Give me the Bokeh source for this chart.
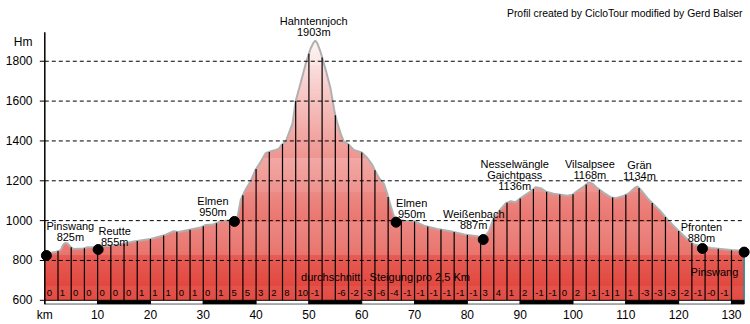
import numpy as np
from bokeh.plotting import figure
from bokeh.models import Range1d, FixedTicker, Label
from bokeh.core.properties import value
from bokeh.embed import file_html
from bokeh.resources import INLINE

# ---------------- data ----------------
profile_km = [0.0, 2.0, 3.0, 3.5, 3.9, 4.3, 4.9, 5.4, 7.3, 8.1, 10.0, 11.1, 14.3, 16.8,
              20.0, 22.5, 24.4, 25.3, 27.6, 29.5, 30.4, 31.9, 33.3, 35.2, 36.4, 37.1,
              38.0, 38.9, 39.9, 40.9, 41.8, 42.7, 43.7, 44.3, 44.8, 45.6, 46.2, 46.9,
              47.5, 48.4, 49.4, 50.3, 50.9, 51.2, 51.6, 52.2, 53.2, 54.1, 54.9, 55.4,
              56.0, 56.6, 57.5, 58.5, 60.0, 61.1, 62.0, 62.6, 63.3, 64.2, 64.8, 65.5,
              66.1, 67.0, 68.0, 69.9, 71.8, 74.3, 76.8, 79.4, 81.9, 83.0, 84.1, 85.0,
              86.3, 87.3, 88.2, 89.1, 90.1, 91.0, 92.0, 92.9, 93.9, 94.8, 96.3, 97.7,
              98.9, 99.9, 101.1, 102.1, 103.0, 103.7, 104.6, 105.9, 107.1, 108.1,
              109.7, 110.6, 111.6, 112.2, 112.8, 114.1, 115.3, 116.6, 117.9, 119.1,
              120.4, 121.7, 122.9, 124.5, 126.1, 128.0, 129.9, 132.4]
profile_elev = [835, 842, 852, 880, 888, 885, 868, 858, 860, 866, 868, 872, 880, 895,
                908, 925, 947, 943, 955, 965, 978, 980, 997, 1002, 1005, 1105,
                1155, 1195, 1255, 1297, 1338, 1347, 1355, 1360, 1380, 1397, 1438, 1488,
                1600, 1688, 1788, 1863, 1895, 1903, 1890, 1847, 1755, 1663, 1540, 1488,
                1438, 1397, 1383, 1355, 1342, 1313, 1280, 1247, 1213, 1185, 1138, 1072,
                1022, 1005, 1000, 997, 975, 958, 947, 930, 922, 908, 947, 1013,
                1058, 1088, 1097, 1092, 1113, 1130, 1147, 1168, 1163, 1147, 1135, 1130,
                1125, 1130, 1155, 1172, 1192, 1185, 1163, 1138, 1118, 1113,
                1125, 1138, 1163, 1172, 1155, 1113, 1080, 1047, 1005, 972,
                938, 905, 880, 872, 863, 858, 852, 847]

# gradient (%) per 2.5 km section
gradients = ["0", "1", "0", "0", "0", "0", "0", "1", "1", "1", "0", "1", "0", "1", "5", "5",
             "3", "2", "8", "10", "-1", "", "-6", "-2", "-3", "-6", "-4", "-1", "-1", "-1",
             "-1", "-1", "-1", "3", "4",
             "1", "2", "-1", "-1", "0", "2", "-1", "-1", "1", "1", "-3", "-3", "-3", "-2",
             "-1", "-0", "-1", ""]

# places with a dot
dot_km = [0.3, 10.1, 35.9, 66.5, 83.0, 124.5, 132.4]
dot_elev = [825, 855, 996, 992, 905, 860, 842]

# place / pass labels
label_lines = [["Pinswang", "825m"], ["Reutte", "855m"], ["Elmen", "950m"],
               ["Elmen", "950m"], ["Weißenbach", "887m"],
               ["Nesselwängle", "Gaichtpass", "1136m"], ["Vilsalpsee", "1168m"],
               ["Grän", "1134m"], ["Pfronten", "880m"], ["Pinswang"],
               ["Hahntennjoch", "1903m"]]
label_km = [0.3, 10.1, 35.9, 66.5, 83.0, 88.2, 103.0, 112.2, 124.5, 132.4, 51.2]
label_elev = [825, 855, 996, 992, 905, 1097, 1192, 1172, 860, 842, 1903]

y_ticks = [600, 800, 1000, 1200, 1400, 1600, 1800]
y_unit = "Hm"
x_ticks = [0, 10, 20, 30, 40, 50, 60, 70, 80, 90, 100, 110, 120, 130]
x_unit = "km"
section_km = 2.5
total_km = profile_km[-1]
axis_top = 1945

# ---------------- layout ----------------
label_dx = [24, 16.5, -21.5, 15.6, -9.5, 4, 1, 2, -1, -29.7, -1.5]
label_dy = [29, 19, 20, 19.3, 25.7, 37.4, 18.3, 21.6, 21.7, -20, 19.7]
LINE_H = 11
FONT = "Liberation Sans"
PXKM = 5.282          # pixels per km
UNIT_Y = 1895         # height of the axis unit label

Y0, Y1 = 579, 2105
X0, X1 = -6.3 / PXKM, 133.6

p = figure(width=750, height=324, x_range=Range1d(X0, X1), y_range=Range1d(Y0, Y1),
           output_backend="svg", toolbar_location=None,
           min_border_left=38, min_border_right=0, min_border_top=0,
           min_border_bottom=19, background_fill_color="white",
           border_fill_color="white")
p.outline_line_color = None
p.xgrid.visible = False
p.ygrid.visible = False

# gradient fill (bands) below the profile
band_b = np.arange(600, 1950, 5)
top_c = np.array([255, 250, 250])
bot_c = np.array([220, 34, 24])
cols = []
for b in band_b:
    t = min(max((b + 2.5 - 600) / (1950 - 600), 0), 1)
    c = bot_c + (top_c - bot_c) * t
    cols.append("#%02x%02x%02x" % tuple(int(round(v)) for v in c))
p.quad(left=0, right=total_km, bottom=band_b, top=band_b + 5.6, fill_color=cols,
       line_color=None)

# white mask above the profile
mask_x = list(profile_km) + [total_km + 0.2, total_km + 0.2, 0]
mask_y = list(profile_elev) + [profile_elev[-1], 2000, 2000]
p.patch(mask_x, mask_y, fill_color="white", line_color=None)

# profile outline
p.line(profile_km, profile_elev, line_color="#b0b0b0", line_width=2)

# vertical section lines
sec = np.arange(section_km, total_km - 0.5, section_km)
p.segment(x0=sec, y0=600, x1=sec, y1=np.interp(sec, profile_km, profile_elev),
          line_color="black", line_width=1.2)
p.segment(x0=[total_km], y0=[600], x1=[total_km], y1=[profile_elev[-1]],
          line_color="#1f8f9a", line_width=1.5)

# dashed grid lines
gl = [t for t in y_ticks if t > 600]
p.segment(x0=0, y0=gl, x1=132.1, y1=gl, line_color="black", line_width=1,
          line_dash="4 3")

# km band
bl = [t for t in x_ticks]
br = bl[1:] + [total_km]
bcol = ["white" if i % 2 == 0 else "black" for i in range(len(bl))]
p.quad(left=bl, right=br, bottom=Y0 + 1.5, top=600, fill_color=bcol,
       line_color="black", line_width=1)

# y axis line and tick marks
p.segment(x0=[0], y0=[Y0], x1=[0], y1=[axis_top], line_color="black", line_width=1.5)
p.segment(x0=-5 / PXKM, y0=y_ticks, x1=0, y1=y_ticks, line_color="black", line_width=1)

# gradient numbers
gx = np.arange(len(gradients)) * section_km + 0.35
p.text(x=gx, y=[636] * len(gradients), text=gradients, text_align="left",
       text_baseline="middle", text_font=value(FONT), text_font_size="9.5px",
       text_color="black")

# dots
p.scatter(dot_km, dot_elev, size=10, color="black")

# labels
for lines, kx, ey, dx, dy in zip(label_lines, label_km, label_elev, label_dx, label_dy):
    for j, ln in enumerate(lines):
        p.add_layout(Label(x=kx, y=ey, x_offset=dx, y_offset=dy - j * LINE_H, text=ln,
                           text_align="center", text_baseline="middle",
                           text_font=FONT, text_font_size="11px",
                           text_color="black"))

p.add_layout(Label(x=64.5, y=718, text="durchschnitt . Steigung pro 2,5 Km",
                   text_align="center", text_baseline="middle", text_font=FONT,
                   text_font_size="11px", text_color="black"))
p.add_layout(Label(x=132.1, y=2040, text="Profil created by CicloTour modified by Gerd Balser",
                   text_align="right", text_baseline="middle", text_font=FONT,
                   text_font_size="10.4px", text_color="black"))

# axes
ya = p.yaxis[0]
ya.ticker = FixedTicker(ticks=y_ticks + [UNIT_Y])
ya.major_label_overrides = {UNIT_Y: y_unit}
ya.axis_line_color = None
ya.major_tick_line_color = None
ya.major_tick_out = 0
ya.major_tick_in = 0
ya.minor_tick_line_color = None
ya.minor_tick_out = 0
ya.major_label_standoff = 6
ya.major_label_text_font = FONT
ya.major_label_text_font_size = "12px"
ya.major_label_text_color = "black"

xa = p.xaxis[0]
xa.ticker = FixedTicker(ticks=x_ticks)
xa.major_label_overrides = {0: x_unit}
xa.axis_line_color = None
xa.major_tick_line_color = None
xa.major_tick_out = 0
xa.minor_tick_line_color = None
xa.minor_tick_out = 0
xa.major_label_standoff = 3
xa.major_label_text_font = FONT
xa.major_label_text_font_size = "12px"
xa.major_label_text_color = "black"

open("out.html", "w").write(file_html(p, INLINE))
